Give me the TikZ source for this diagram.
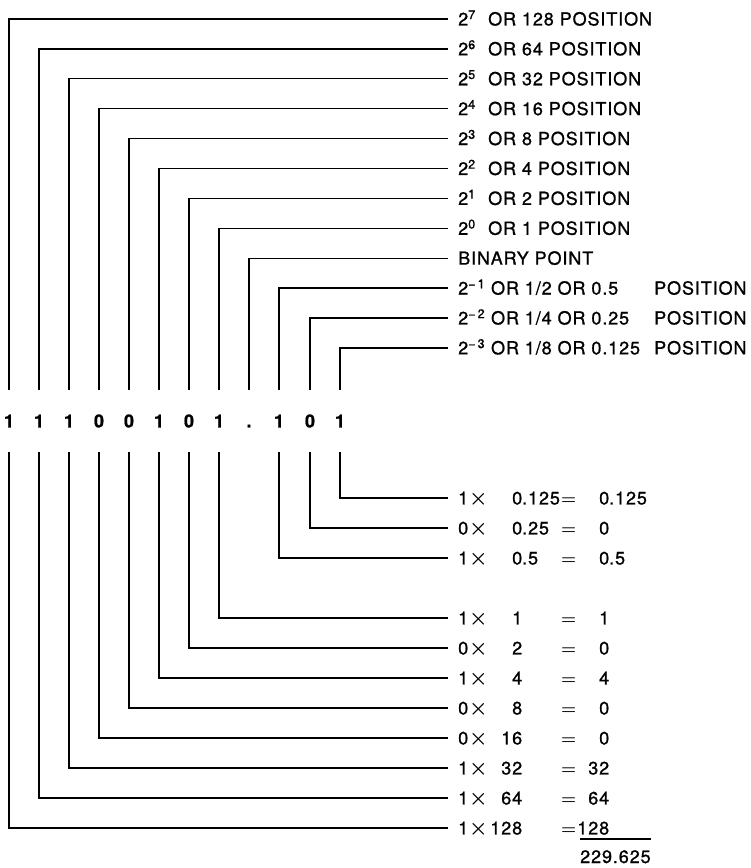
\documentclass[tikz,border=0pt]{standalone}
\usepackage{fontspec}
\setmainfont{TeX Gyre Heros}[LetterSpace=5,FakeBold=1]
\usetikzlibrary{calc}
\tikzset{
	connector/.style={line width=1.3pt},%
	digit/.style={font=\fontsize{18}{21}\selectfont\bfseries,inner sep=0pt,text height=12.9pt,text depth=0pt,minimum height=62pt},%
	poslabel/.style={font=\fontsize{18}{21}\selectfont,anchor=west,inner xsep=10pt,inner ysep=0pt,text height=12.9pt,text depth=0pt},%
	prodlabel/.style={poslabel},%
	total/.style={font=\fontsize{18}{21}\selectfont,anchor=base west,inner sep=0pt},%
}
\newcommand{\prodrow}[5]{\makebox[28pt][l]{#1\kern1pt{\fontsize{20}{20}\selectfont\boldmath$\times$}}\makebox[36pt][r]{#2}\makebox[38pt][l]{#3}\makebox[17pt][c]{\boldmath$=$}\makebox[32pt][r]{#4}#5}
\newcommand{\intpos}[2]{\makebox[30pt][l]{2\textsuperscript{#1}}OR #2 POSITION}
\newcommand{\fracpos}[1]{\makebox[196pt][l]{#1}POSITION}

\begin{document}
\begin{tikzpicture}[x=1pt,y=-1pt]
		\useasboundingbox (0,0) rectangle (751,868);
		% Binary number {{{
		\node[digit] (b7) at (9,421) {1};
		\node[digit] (b6) at (39,421) {1};
		\node[digit] (b5) at (69,421) {1};
		\node[digit] (b4) at (99,421) {0};
		\node[digit] (b3) at (129,421) {0};
		\node[digit] (b2) at (159,421) {1};
		\node[digit] (b1) at (189,421) {0};
		\node[digit] (b0) at (219,421) {1};
		\node[digit] (bp) at (249,421) {.};
		\node[digit] (bm1) at (279,421) {1};
		\node[digit] (bm2) at (310,421) {0};
		\node[digit] (bm3) at (340,421) {1};
		% }}}
		% Position labels {{{
		\node[poslabel] (p7) at (448,19) {\intpos{7}{128}};
		\node[poslabel] (p6) at (448,48.9) {\intpos{6}{64}};
		\node[poslabel] (p5) at (448,78.8) {\intpos{5}{32}};
		\node[poslabel] (p4) at (448,108.7) {\intpos{4}{16}};
		\node[poslabel] (p3) at (448,138.6) {\intpos{3}{8}};
		\node[poslabel] (p2) at (448,168.5) {\intpos{2}{4}};
		\node[poslabel] (p1) at (448,198.4) {\intpos{1}{2}};
		\node[poslabel] (p0) at (448,228.3) {\intpos{0}{1}};
		\node[poslabel] (pp) at (448,258.2) {BINARY POINT};
		\node[poslabel] (pm1) at (448,288.1) {\fracpos{2\textsuperscript{\textminus\,1} OR 1/2 OR 0.5}};
		\node[poslabel] (pm2) at (448,318) {\fracpos{2\textsuperscript{\textminus\,2} OR 1/4 OR 0.25}};
		\node[poslabel] (pm3) at (448,347.9) {\fracpos{2\textsuperscript{\textminus\,3} OR 1/8 OR 0.125}};
		% }}}
		% Products {{{
		\node[prodlabel] (sm3) at (448,498) {\prodrow{1}{0}{.125}{0}{.125}};
		\node[prodlabel] (sm2) at (448,528) {\prodrow{0}{0}{.25}{0}{}};
		\node[prodlabel] (sm1) at (448,558) {\prodrow{1}{0}{.5}{0}{.5}};
		\node[prodlabel] (s0) at (448,618) {\prodrow{1}{1}{}{1}{}};
		\node[prodlabel] (s1) at (448,648) {\prodrow{0}{2}{}{0}{}};
		\node[prodlabel] (s2) at (448,678) {\prodrow{1}{4}{}{4}{}};
		\node[prodlabel] (s3) at (448,708) {\prodrow{0}{8}{}{0}{}};
		\node[prodlabel] (s4) at (448,738) {\prodrow{0}{16}{}{0}{}};
		\node[prodlabel] (s5) at (448,768) {\prodrow{1}{32}{}{32}{}};
		\node[prodlabel] (s6) at (448,798) {\prodrow{1}{64}{}{64}{}};
		\node[prodlabel] (s7) at (448,828) {\prodrow{1}{128}{}{128}{}};
		\node[total] (tot) at (580,863) {229.625};
		\draw[connector] ([yshift=11pt]tot.north west) -- ([yshift=11pt]tot.north east);
		% }}}
		\draw[connector] (b7.north) |- (p7.west);
		\draw[connector] (b6.north) |- (p6.west);
		\draw[connector] (b5.north) |- (p5.west);
		\draw[connector] (b4.north) |- (p4.west);
		\draw[connector] (b3.north) |- (p3.west);
		\draw[connector] (b2.north) |- (p2.west);
		\draw[connector] (b1.north) |- (p1.west);
		\draw[connector] (b0.north) |- (p0.west);
		\draw[connector] (bp.north) |- (pp.west);
		\draw[connector] (bm1.north) |- (pm1.west);
		\draw[connector] (bm2.north) |- (pm2.west);
		\draw[connector] (bm3.north) |- (pm3.west);
		\draw[connector] (bm3.south) |- (sm3.west);
		\draw[connector] (bm2.south) |- (sm2.west);
		\draw[connector] (bm1.south) |- (sm1.west);
		\draw[connector] (b0.south) |- (s0.west);
		\draw[connector] (b1.south) |- (s1.west);
		\draw[connector] (b2.south) |- (s2.west);
		\draw[connector] (b3.south) |- (s3.west);
		\draw[connector] (b4.south) |- (s4.west);
		\draw[connector] (b5.south) |- (s5.west);
		\draw[connector] (b6.south) |- (s6.west);
		\draw[connector] (b7.south) |- (s7.west);
	\end{tikzpicture}
\end{document}
